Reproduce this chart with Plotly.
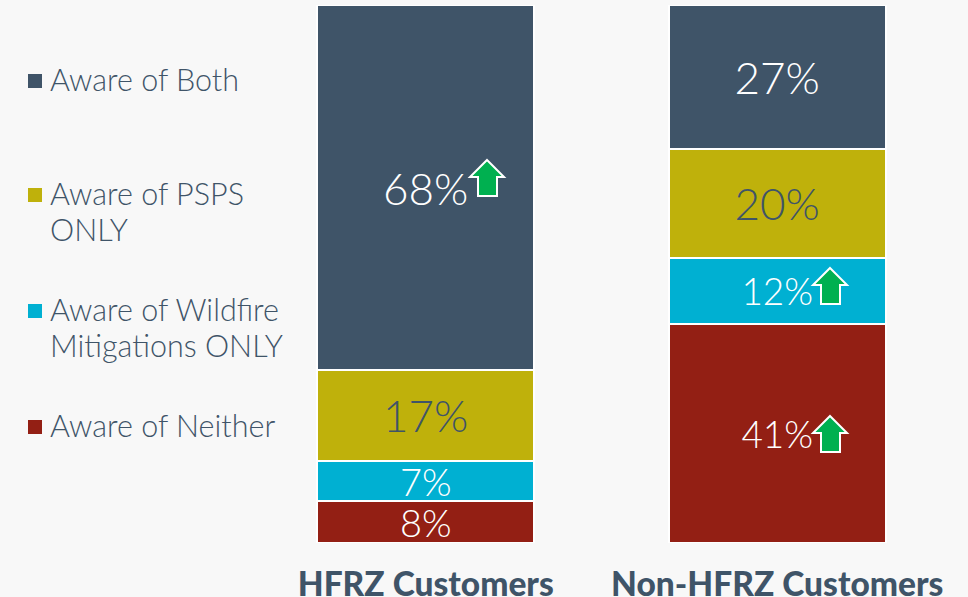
import plotly.graph_objects as go

categories = ["HFRZ Customers", "Non-HFRZ Customers"]
series_names = ["Aware of Neither", "Aware of Wildfire<br>Mitigations ONLY", "Aware of PSPS<br>ONLY", "Aware of Both"]
neither = [7.9, 40.7]
wildfire = [7.4, 12.3]
psps = [16.8, 20.3]
both = [67.9, 26.7]
colors = ["#931F14", "#00B0D2", "#BFB10B", "#3F5468"]
label_colors = ["#FFFFFF", "#FFFFFF", "#3F5468", "#FFFFFF"]
label_sizes = [[38, 37], [38, 37], [44, 44], [44, 44]]
W, H = 968, 597
L, R, T, B = 250, 15, 5, 54
FONT = "Lato"
INK = "#3F5468"


def px(x):
    return (x - L) / (W - L - R)


def py(y):
    return 1 - (y - T) / (H - T - B)


fig = go.Figure()
for name, vals, col, lc, sz in zip(series_names, [neither, wildfire, psps, both], colors, label_colors, label_sizes):
    fig.add_trace(go.Bar(
        x=categories, y=vals, name=name.replace("<br>", " "), width=0.618,
        marker=dict(color=col, line=dict(color="#FFFFFF", width=2)),
        text=[f"{round(v)}%" for v in vals], textposition="inside", insidetextanchor="middle",
        textangle=0, constraintext="none", cliponaxis=False,
        textfont=dict(family=FONT, color=lc, size=sz, weight=300),
        showlegend=False,
    ))

shapes = []
# up arrows (tip x, tip y in pixels)
for tx, ty in [(487, 160), (830, 268), (830, 416)]:
    pts = [(tx, ty), (tx + 17, ty + 17), (tx + 10, ty + 17), (tx + 10, ty + 36), (tx - 9, ty + 36), (tx - 9, ty + 17), (tx - 17, ty + 17)]
    path = "M " + " L ".join(f"{px(a):.5f},{py(b):.5f}" for a, b in pts) + " Z"
    shapes.append(dict(type="path", xref="paper", yref="paper", path=path, fillcolor="#00B050",
                       line=dict(color="#FFFFFF", width=2), layer="above"))

annotations = []
legend_y = [(series_names[3], colors[3], 80, 79), (series_names[2], colors[2], 194, 193),
            (series_names[1], colors[1], 310, 309), (series_names[0], colors[0], 426, 425)]
for name, col, sq_y, txt_y in legend_y:
    shapes.append(dict(type="rect", xref="paper", yref="paper", x0=px(28), x1=px(42),
                       y0=py(sq_y + 8), y1=py(sq_y - 6), fillcolor=col, line=dict(width=0)))
    for i, line in enumerate(name.split("<br>")):
        annotations.append(dict(text=line, xref="paper", yref="paper", x=px(50), y=py(txt_y + 36 * i), xanchor="left",
                                xshift=-2, yanchor="middle", align="left", showarrow=False,
                                font=dict(family=FONT, size=30.5, color=INK, weight=300)))

fig.update_layout(
    width=W, height=H, autosize=False,
    margin=dict(l=L, r=R, t=T, b=B, autoexpand=False),
    paper_bgcolor="#F8F8F8", plot_bgcolor="#F8F8F8",
    barmode="stack", shapes=shapes, annotations=annotations,
    xaxis=dict(type="category", range=[-0.5, 1.5], showgrid=False, zeroline=False, showline=False,
               automargin=False, ticks="outside", ticklen=12, tickcolor="rgba(0,0,0,0)",
               tickfont=dict(family=FONT, size=33.5, color=INK, weight=900)),
    yaxis=dict(range=[0, 100], visible=False),
)
fig.write_html("out.html", config=dict(displayModeBar=False),
               post_script="document.body.style.margin='0';document.documentElement.style.background='#F8F8F8';")
